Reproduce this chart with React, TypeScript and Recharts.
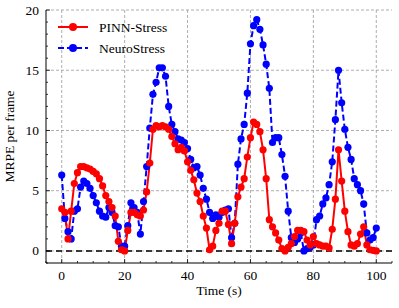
import { CartesianGrid, Legend, Line, LineChart, ReferenceLine, XAxis, YAxis } from 'recharts'

// MRPE per frame, one value per second (t = 0..100)
const pinnStress = [
  3.5, 3.2, 1.0, 3.3, 5.6, 6.5, 7.0, 7.0, 6.9, 6.8,
  6.6, 6.4, 6.0, 5.4, 4.6, 4.1, 3.6, 2.9, 0.8, 0.1,
  0.0, 1.7, 3.2, 3.2, 3.0, 2.9, 3.4, 4.9, 7.3, 10.1,
  10.4, 10.3, 10.4, 10.3, 10.1, 9.5, 8.9, 8.4, 8.6, 8.3,
  7.4, 6.7, 5.9, 4.8, 4.1, 2.9, 1.9, 0.1, 0.4, 1.7,
  2.3, 3.3, 3.3, 2.2, 0.6, 2.3, 4.5, 5.3, 6.0, 7.8,
  9.4, 10.7, 10.5, 9.9, 8.4, 6.0, 2.6, 2.0, 1.5, 0.9,
  0.2, 0.0, 0.3, 0.6, 1.2, 1.7, 1.7, 1.6, 0.9, 0.5,
  1.2, 0.6, 0.5, 0.4, 0.4, 0.25, 1.8, 4.3, 8.4, 5.8,
  3.3, 1.6, 0.5, 0.4, 0.6, 1.4, 2.0, 0.5, 0.1, 0.05,
  0.0,
]

const neuroStress = [
  6.3, 2.7, 1.6, 1.0, 3.3, 3.5, 5.3, 5.8, 5.6, 5.2,
  4.6, 4.0, 3.3, 2.9, 2.8, 3.6, 3.2, 2.1, 2.0, 0.4,
  0.4, 2.1, 4.0, 3.6, 3.2, 1.4, 4.1, 7.0, 10.2, 13.0,
  14.0, 15.2, 15.2, 14.5, 12.0, 10.5, 9.9, 9.3, 9.2, 9.0,
  8.5, 7.6, 6.9, 7.0, 6.3, 5.2, 4.3, 3.2, 2.7, 3.0,
  2.8, 3.2, 3.4, 3.5, 1.1, 2.3, 7.2, 9.3, 10.5, 13.1,
  17.2, 18.7, 19.2, 18.4, 17.1, 15.5, 13.5, 9.0, 9.4, 9.4,
  8.0, 6.2, 3.3, 1.1, 0.7, 1.0, 1.5, 0.0, 0.2, 0.3,
  0.5, 2.6, 2.9, 3.9, 4.4, 5.5, 7.4, 10.9, 15.0, 12.3,
  10.1, 8.6, 7.6, 6.0, 5.5, 5.0, 3.9, 1.5, 0.9, 1.1,
  1.9,
]

const xMajor = [0, 20, 40, 60, 80, 100]
const xMinor = [-5, 5, 10, 15, 25, 30, 35, 45, 50, 55, 65, 70, 75, 85, 90, 95, 105]
const yMajor = [0, 5, 10, 15, 20]
const yMinor = [-1, 1, 2, 3, 4, 6, 7, 8, 9, 11, 12, 13, 14, 16, 17, 18, 19]

const data = pinnStress.map((v, i) => ({ t: i, pinn: v, neuro: neuroStress[i] }))

const FONT = "'Liberation Serif', 'DejaVu Serif', serif"
const txt = { fontFamily: FONT, fontSize: 13.5 }
const RED = '#ff0000'
const BLUE = '#0000ff'

function XTick(props: any) {
  const { x, y, payload, side } = props
  const major = xMajor.includes(payload.value)
  const len = major ? 4 : 2
  const dir = side === 'top' ? 1 : -1
  return (
    <g>
      <line x1={x} x2={x} y1={y} y2={y + dir * len} stroke="#000" strokeWidth={0.8} />
      {side !== 'top' && major && (
        <text x={x} y={y + 17} textAnchor="middle" style={txt} fill="#000">
          {payload.value}
        </text>
      )}
    </g>
  )
}

function YTick(props: any) {
  const { x, y, payload, side } = props
  const major = yMajor.includes(payload.value)
  const len = major ? 4 : 2
  const dir = side === 'right' ? -1 : 1
  return (
    <g>
      <line x1={x} x2={x + dir * len} y1={y} y2={y} stroke="#000" strokeWidth={0.8} />
      {side !== 'right' && major && (
        <text x={x - 7} y={y + 4.5} textAnchor="end" style={txt} fill="#000">
          {payload.value}
        </text>
      )}
    </g>
  )
}

function XLabel(props: any) {
  const { viewBox } = props
  return (
    <text x={viewBox.x + viewBox.width / 2} y={295} textAnchor="middle" style={txt} fill="#000">
      Time (s)
    </text>
  )
}

function YLabel(props: any) {
  const { viewBox } = props
  const cy = viewBox.y + viewBox.height / 2
  return (
    <text x={14} y={cy} transform={`rotate(-90 14 ${cy})`} textAnchor="middle" style={txt} fill="#000">
      MRPE per frame
    </text>
  )
}

function LegendBox() {
  return (
    <svg width={140} height={46} style={{ display: 'block' }}>
      <line x1={4} x2={34} y1={12} y2={12} stroke={RED} strokeWidth={2} />
      <circle cx={19} cy={12} r={4} fill={RED} />
      <text x={45} y={17} style={txt} fill="#000">PINN-Stress</text>
      <line x1={4} x2={34} y1={33} y2={33} stroke={BLUE} strokeWidth={2} strokeDasharray="6 3" />
      <circle cx={19} cy={33} r={4} fill={BLUE} />
      <text x={45} y={38} style={txt} fill="#000">NeuroStress</text>
    </svg>
  )
}

export default function App() {
  return (
    <div style={{ position: 'fixed', left: 0, top: 0, background: '#fff', fontFamily: FONT }}>
      <LineChart width={399} height={308} data={data} margin={{ top: 10, right: 7, left: 0, bottom: 0 }}>
        <CartesianGrid
          stroke="#999"
          strokeDasharray="3 2"
          strokeWidth={0.8}
          verticalValues={xMajor}
          horizontalValues={yMajor}
        />
        <XAxis
          dataKey="t"
          type="number"
          domain={[-5, 105]}
          ticks={[...xMajor, ...xMinor]}
          interval={0}
          allowDataOverflow
          height={45}
          tickSize={0}
          tickMargin={0}
          tickLine={false}
          axisLine={{ stroke: '#000', strokeWidth: 1 }}
          tick={<XTick side="bottom" />}
          label={<XLabel />}
        />
        <XAxis
          xAxisId="top"
          orientation="top"
          dataKey="t"
          type="number"
          domain={[-5, 105]}
          ticks={[...xMajor, ...xMinor]}
          interval={0}
          allowDataOverflow
          height={0}
          tickSize={0}
          tickMargin={0}
          tickLine={false}
          axisLine={{ stroke: '#000', strokeWidth: 1 }}
          tick={<XTick side="top" />}
        />
        <YAxis
          type="number"
          domain={[-1, 20]}
          ticks={[...yMajor, ...yMinor]}
          interval={0}
          allowDataOverflow
          width={46}
          tickSize={0}
          tickMargin={0}
          tickLine={false}
          axisLine={{ stroke: '#000', strokeWidth: 1 }}
          tick={<YTick side="left" />}
          label={<YLabel />}
        />
        <YAxis
          yAxisId="right"
          orientation="right"
          type="number"
          domain={[-1, 20]}
          ticks={[...yMajor, ...yMinor]}
          interval={0}
          allowDataOverflow
          width={0}
          tickSize={0}
          tickMargin={0}
          tickLine={false}
          axisLine={{ stroke: '#000', strokeWidth: 1 }}
          tick={<YTick side="right" />}
        />
        <ReferenceLine y={0} stroke="#000" strokeWidth={1.5} strokeDasharray="6 4" />
        <Line
          type="linear"
          dataKey="neuro"
          name="NeuroStress"
          stroke={BLUE}
          strokeWidth={2}
          strokeDasharray="6 3"
          dot={{ r: 3.6, fill: BLUE, stroke: BLUE, strokeWidth: 0, strokeDasharray: '' }}
          activeDot={false}
          isAnimationActive={false}
        />
        <Line
          type="linear"
          dataKey="pinn"
          name="PINN-Stress"
          stroke={RED}
          strokeWidth={2}
          dot={{ r: 3.6, fill: RED, stroke: RED, strokeWidth: 0 }}
          activeDot={false}
          isAnimationActive={false}
        />
        <Legend
          layout="vertical"
          align="center"
          verticalAlign="middle"
          wrapperStyle={{ left: 54, top: 15, width: 140 }}
          content={() => <LegendBox />}
        />
      </LineChart>
    </div>
  )
}
